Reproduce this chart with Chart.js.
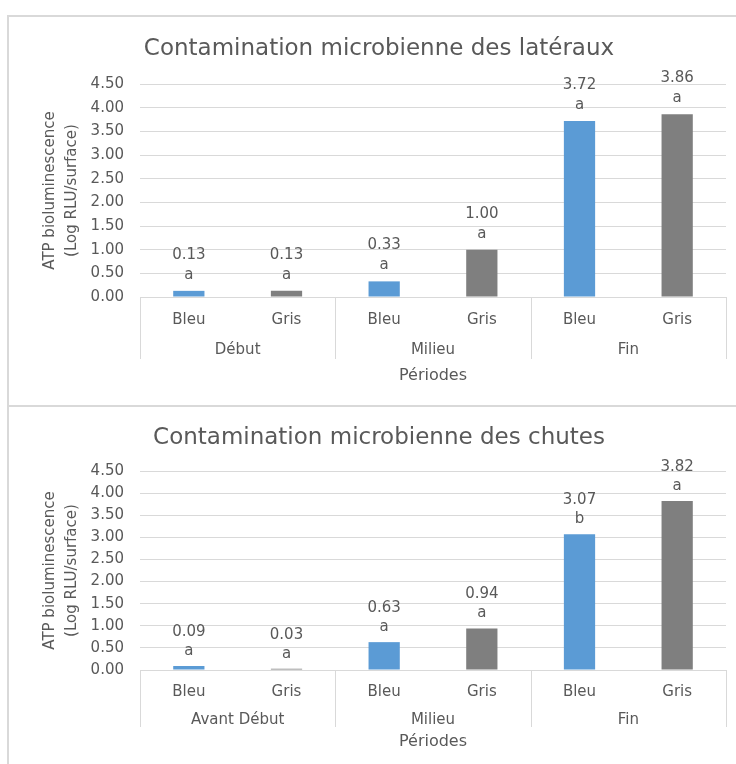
<!DOCTYPE html>
<html>
<head>
<meta charset="utf-8">
<script src="https://cdn.jsdelivr.net/npm/chart.js@4"></script>
<style>
  html, body { margin: 0; padding: 0; background: #fff; overflow: hidden; width: 736px; height: 764px; }
  .cadre { position: absolute; left: 7px; width: 740px; border-top: 2px solid #d9d9d9; border-left: 2px solid #d9d9d9; }
  #cadre1 { top: 15px; height: 388px; }
  #cadre2 { top: 405px; height: 357px; }
  canvas { display: block; }
</style>
</head>
<body>
<div class="cadre" id="cadre1"><canvas id="lateraux" width="740" height="388"></canvas></div>
<div class="cadre" id="cadre2"><canvas id="chutes" width="740" height="357"></canvas></div>

<script>
// Données
let categories = ["Bleu", "Gris", "Bleu", "Gris", "Bleu", "Gris"];
let periodesLateraux = ["Début", "Milieu", "Fin"];
let periodesChutes = ["Avant Début", "Milieu", "Fin"];

let valeursLateraux = [0.13, 0.13, 0.33, 1.0, 3.72, 3.86];
let lettresLateraux = ["a", "a", "a", "a", "a", "a"];

let valeursChutes = [0.09, 0.03, 0.63, 0.94, 3.07, 3.82];
let lettresChutes = ["a", "a", "a", "a", "b", "a"];

let yMin = 0;
let yMax = 4.5;
let yPas = 0.5;

let couleurs = ["#5B9BD5", "#7F7F7F", "#5B9BD5", "#7F7F7F", "#5B9BD5", "#7F7F7F"];

Chart.defaults.font.family = "'DejaVu Sans', sans-serif";
Chart.defaults.color = "#595959";

// étiquettes au-dessus des barres + séparateurs des périodes
const decor = {
  id: "decor",
  afterDatasetsDraw(chart, args, opts) {
    const ctx = chart.ctx;
    const meta = chart.getDatasetMeta(0);
    const valeurs = chart.data.datasets[0].data;
    ctx.save();
    ctx.font = "15px 'DejaVu Sans'";
    ctx.fillStyle = "#595959";
    ctx.textAlign = "center";
    ctx.textBaseline = "middle";
    meta.data.forEach((barre, i) => {
      ctx.fillText(valeurs[i].toFixed(2), barre.x, barre.y - opts.ecartValeur);
      ctx.fillText(opts.lettres[i], barre.x, barre.y - opts.ecartLettre);
    });

    const x = chart.scales.x;
    const bas = chart.chartArea.bottom;
    const demi = (x.getPixelForValue(1) - x.getPixelForValue(0)) / 2;
    ctx.strokeStyle = "#d9d9d9";
    ctx.lineWidth = 1;
    for (let g = 0; g <= opts.periodes.length; g++) {
      const px = Math.round(x.getPixelForValue(g * 2) - demi) + 0.5;
      ctx.beginPath();
      ctx.moveTo(px, bas);
      ctx.lineTo(px, bas + opts.longueurSep);
      ctx.stroke();
    }
    opts.periodes.forEach((p, i) => {
      const cx = (x.getPixelForValue(i * 2) + x.getPixelForValue(i * 2 + 1)) / 2;
      ctx.fillText(p, cx, bas + opts.ecartPeriode);
    });
    ctx.restore();
  },
};

function creerGraphique(id, titre, valeurs, lettres, periodes, reglages) {
  return new Chart(document.getElementById(id), {
    type: "bar",
    data: {
      labels: categories,
      datasets: [
        {
          data: valeurs,
          backgroundColor: couleurs,
          borderWidth: 0,
          barPercentage: 0.32,
          categoryPercentage: 1,
        },
      ],
    },
    plugins: [decor],
    options: {
      responsive: false,
      animation: false,
      layout: { padding: { top: 0, left: 0, right: 0, bottom: 4 } },
      plugins: {
        legend: { display: false },
        tooltip: { enabled: false },
        title: {
          display: true,
          text: titre,
          color: "#595959",
          font: { size: 23, weight: "normal" },
          padding: { top: reglages.titreHaut, bottom: reglages.titreBas },
        },
        decor: {
          lettres: lettres,
          periodes: periodes,
          ecartValeur: reglages.ecartValeur,
          ecartLettre: reglages.ecartLettre,
          longueurSep: reglages.longueurSep,
          ecartPeriode: reglages.ecartPeriode,
        },
      },
      scales: {
        x: {
          grid: { display: false },
          border: { display: false },
          ticks: { font: { size: 15 }, padding: reglages.tickPad, color: "#595959" },
          title: {
            display: true,
            text: "Périodes",
            font: { size: 16 },
            color: "#595959",
            padding: { top: 0, bottom: reglages.periodesPad },
          },
          afterFit: (s) => {
            s.height = reglages.hauteurX;
          },
        },
        y: {
          min: yMin,
          max: yMax,
          grid: { color: "#d9d9d9", drawTicks: false },
          border: { display: false },
          ticks: {
            stepSize: yPas,
            padding: 16,
            font: { size: 15 },
            color: "#595959",
            callback: (v) => v.toFixed(2),
          },
          title: {
            display: true,
            text: ["ATP bioluminescence", "(Log RLU/surface)"],
            font: { size: 15, lineHeight: 1.5 },
            color: "#595959",
            padding: { top: 29.5, bottom: 0 },
          },
          afterFit: (s) => {
            s.width = 131;
          },
        },
        // marge de droite (le cadre du graphique dépasse de la page)
        marge: {
          type: "linear",
          position: "right",
          ticks: { display: false },
          grid: { display: false },
          border: { display: false },
          afterFit: (s) => {
            s.width = 23;
          },
        },
      },
    },
  });
}

creerGraphique(
  "lateraux",
  "Contamination microbienne des latéraux",
  valeursLateraux,
  lettresLateraux,
  periodesLateraux,
  {
    titreHaut: 18,
    titreBas: 21.4,
    ecartValeur: 36,
    ecartLettre: 16,
    longueurSep: 62,
    ecartPeriode: 53,
    tickPad: 6.5,
    periodesPad: 15.4,
    hauteurX: 104,
  }
);

creerGraphique(
  "chutes",
  "Contamination microbienne des chutes",
  valeursChutes,
  lettresChutes,
  periodesChutes,
  {
    titreHaut: 17,
    titreBas: 19.4,
    ecartValeur: 34,
    ecartLettre: 15,
    longueurSep: 57,
    ecartPeriode: 50,
    tickPad: 5.5,
    periodesPad: 8.4,
    hauteurX: 90,
  }
);
</script>
</body>
</html>
